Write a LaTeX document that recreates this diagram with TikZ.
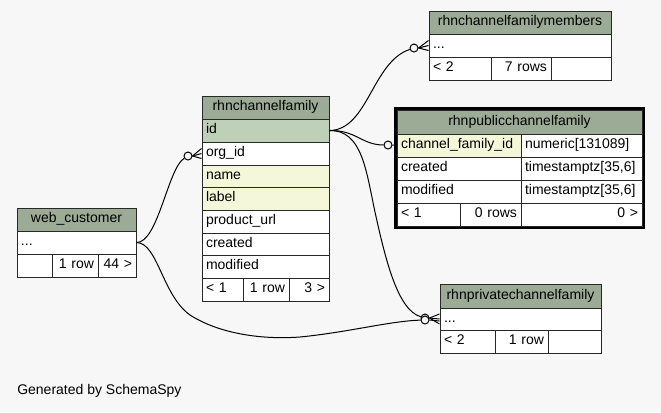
\documentclass[tikz,border=0pt]{standalone}
\usepackage{fontspec}
\setmainfont{Liberation Sans}
\usetikzlibrary{calc}
\definecolor{bg}{RGB}{247,247,247}
\definecolor{hdr}{RGB}{155,171,150}
\definecolor{pk}{RGB}{190,209,184}
\definecolor{idx}{RGB}{244,247,218}
\definecolor{bd}{RGB}{40,40,40}
\tikzset{
  cellbox/.style={draw=bd, line width=0.75pt, inner xsep=3pt, inner ysep=0pt,
    text height=7.6pt, text depth=2.4pt, font=\fontsize{10.5pt}{12pt}\selectfont},
  opt/.style={circle, draw=black, fill=bg, line width=0.75pt, minimum size=6pt, inner sep=0pt},
  rel/.style={draw=black, line width=0.75pt},
}
\newcommand\cell[8]{%
  \node[cellbox, fill=#6, align=#7, minimum width={(#4-#2)*0.75pt},
    minimum height={(#5-#3)*0.75pt}, text width={(#4-#2-8)*0.75pt}]
    (#1) at ({(#2+#4)/2},{(#3+#5)/2}) {#8};}
\begin{document}
\begin{tikzpicture}[x=0.75pt,y=-0.75pt]
\fill[bg] (0,0) rectangle (661,412);
\useasboundingbox (0,0) rectangle (661,412);

% web_customer
\cell{wch}{17}{208}{136}{231}{hdr}{center}{web\_customer}
\cell{wcd}{17}{231}{136}{254}{white}{left}{...}
\cell{wcfa}{17}{254}{52}{277}{white}{left}{}
\cell{wcfb}{52}{254}{98}{277}{white}{right}{1 row}
\cell{wcfc}{98}{254}{136}{277}{white}{right}{44 >}

% rhnchannelfamily
\cell{cfh}{202}{96}{329}{119}{hdr}{center}{rhnchannelfamily}
\cell{cfid}{202}{119}{329}{142}{pk}{left}{id}
\cell{cforg}{202}{142}{329}{165}{white}{left}{org\_id}
\cell{cfname}{202}{165}{329}{187}{idx}{left}{name}
\cell{cflabel}{202}{187}{329}{210}{idx}{left}{label}
\cell{cfurl}{202}{210}{329}{233}{white}{left}{product\_url}
\cell{cfcre}{202}{233}{329}{255}{white}{left}{created}
\cell{cfmod}{202}{255}{329}{278}{white}{left}{modified}
\cell{cffa}{202}{278}{243}{301}{white}{left}{< 1}
\cell{cffb}{243}{278}{289}{301}{white}{right}{1 row}
\cell{cffc}{289}{278}{329}{301}{white}{right}{3 >}

% rhnchannelfamilymembers
\cell{mh}{429}{11}{611}{34}{hdr}{center}{rhnchannelfamilymembers}
\cell{md}{429}{34}{611}{57}{white}{left}{...}
\cell{mfa}{429}{57}{491}{80}{white}{left}{< 2}
\cell{mfb}{491}{57}{551}{80}{white}{right}{7 rows}
\cell{mfc}{551}{57}{611}{80}{white}{right}{}

% rhnpublicchannelfamily
\draw[draw=black, line width=2.2pt] (395.5,108.5) rectangle (643.5,227.5);
\cell{ph}{397}{110}{642}{134}{hdr}{center}{rhnpublicchannelfamily}
\cell{pcf}{397}{134}{521}{157}{idx}{left}{channel\_family\_id}
\cell{pcft}{521}{134}{642}{157}{white}{left}{numeric[131089]}
\cell{pcr}{397}{157}{521}{180}{white}{left}{created}
\cell{pcrt}{521}{157}{642}{180}{white}{left}{timestamptz[35,6]}
\cell{pmo}{397}{180}{521}{203}{white}{left}{modified}
\cell{pmot}{521}{180}{642}{203}{white}{left}{timestamptz[35,6]}
\cell{pfa}{397}{203}{460}{226}{white}{left}{< 1}
\cell{pfb}{460}{203}{521}{226}{white}{right}{0 rows}
\cell{pfc}{521}{203}{642}{226}{white}{right}{0 >}

% rhnprivatechannelfamily
\cell{vh}{440}{284}{601}{308}{hdr}{center}{rhnprivatechannelfamily}
\cell{vd}{440}{308}{601}{330}{white}{left}{...}
\cell{vfa}{440}{330}{495}{353}{white}{left}{< 2}
\cell{vfb}{495}{330}{548}{353}{white}{right}{1 row}
\cell{vfc}{548}{330}{601}{353}{white}{right}{}

% footer text
\node[anchor=west, inner sep=0pt, font=\fontsize{10.5pt}{12pt}\selectfont] (gen) at (17,391) {Generated by SchemaSpy};

% optional-end circles
\node[opt] (o1) at (188,156) {};
\node[opt] (o2) at (414,48) {};
\node[opt] (o3) at (388,145) {};
\node[opt] (o4) at (425,318) {};
\node[opt] (o5) at (425,320) {};

% web_customer -> rhnchannelfamily.org_id
\draw[rel] (wcd.east) .. controls (158,243) and (168,168) .. (o1);
\draw[rel] (o1.east) -- (cforg.west);
\draw[rel] (o1.east) -- ($(cforg.west)+(0,-5)$);
\draw[rel] (o1.east) -- ($(cforg.west)+(0,5)$);

% web_customer -> rhnprivatechannelfamily
\draw[rel] (wcd.east) .. controls (158,243) and (162,295) .. (190,315)
  .. controls (218,333) and (260,340) .. (300,337)
  .. controls (350,332) and (390,321) .. (o5);

% id -> rhnchannelfamilymembers
\draw[rel] (cfid.east) .. controls (368,130) and (372,62) .. (o2);
\draw[rel] (o2.east) -- (md.west);
\draw[rel] (o2.east) -- ($(md.west)+(0,-5)$);
\draw[rel] (o2.east) -- ($(md.west)+(0,5)$);

% id -> rhnpublicchannelfamily
\draw[rel] (cfid.east) .. controls (356,130) and (362,145) .. (o3);
\draw[rel] (o3.east) -- (pcf.west);

% id -> rhnprivatechannelfamily
\draw[rel] (cfid.east) .. controls (362,130) and (366,170) .. (375,212)
  .. controls (386,262) and (398,310) .. (o4);
\draw[rel] (o4.east) -- (vd.west);
\draw[rel] (o4.east) -- ($(vd.west)+(0,-5)$);
\draw[rel] (o4.east) -- ($(vd.west)+(0,5)$);
\draw[rel] (o5.east) -- ($(vd.west)+(0,2)$);
\end{tikzpicture}
\end{document}
